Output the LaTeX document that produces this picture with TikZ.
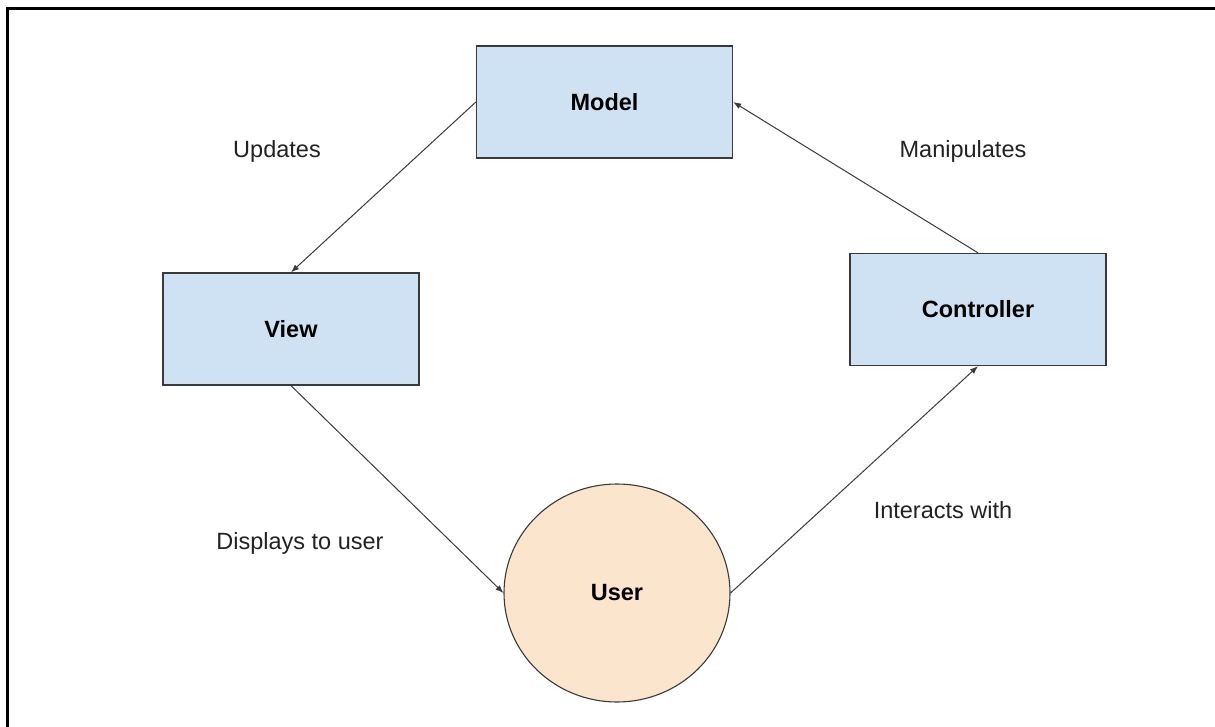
\documentclass[tikz,border=0pt]{standalone}
\usepackage{fontspec}
\setmainfont{Liberation Sans}
\usetikzlibrary{arrows.meta,shapes.geometric}
\definecolor{boxfill}{HTML}{CFE2F3}
\definecolor{userfill}{HTML}{FCE5CD}
\definecolor{edge}{HTML}{3A3A3A}
\definecolor{labeltext}{HTML}{222222}
\tikzset{
  part/.style={draw=edge, line width=1.3pt, fill=boxfill, rectangle,
    minimum width=256pt, minimum height=112pt, inner sep=0pt,
    font=\fontsize{23.5}{28}\selectfont\bfseries},
  actor/.style={draw=edge, line width=1.1pt, fill=userfill, ellipse,
    minimum width=226pt, minimum height=218pt, inner sep=0pt,
    font=\fontsize{23.5}{28}\selectfont\bfseries},
  flow/.style={draw=edge, line width=1pt, -{Latex[length=8pt,width=6pt]}},
  note/.style={text=labeltext, font=\fontsize{23.5}{28}\selectfont, inner sep=0pt}
}
\begin{document}
\begin{tikzpicture}[x=1pt,y=-1pt]
  \useasboundingbox (0,0) rectangle (1215,727);
  \fill[white] (0,0) rectangle (1215,727);
  % page frame (top and left edges)
  \draw[line width=3pt, line cap=rect] (1215,8.5) -- (7.5,8.5) -- (7.5,727);

  % components
  \node[part] (model) at (604.5,102) {Model};
  \node[part] (view) at (291,329) {View};
  \node[part] (controller) at (978,309.5) {Controller};
  \node[actor] (user) at (617,593) {User};

  % interactions
  \draw[flow] (model.west) -- (view.north);
  \draw[flow] (view.south) -- (user.west);
  \draw[flow] (user.east) -- (controller.south);
  \draw[flow] (controller.north) -- (model.east);

  % edge labels
  \node[note] (lupd) at (277,151) {Updates};
  \node[note] (lman) at (963,151) {Manipulates};
  \node[note] (ldis) at (300,543) {Displays to user};
  \node[note] (lint) at (943,510) {Interacts with};
\end{tikzpicture}
\end{document}
